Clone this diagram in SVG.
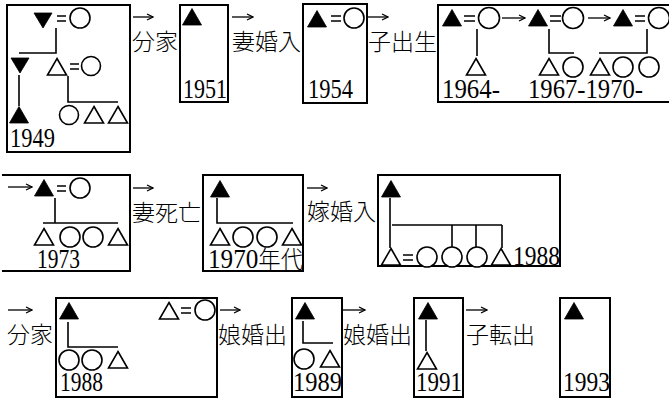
<svg xmlns="http://www.w3.org/2000/svg" xmlns:xlink="http://www.w3.org/1999/xlink" width="669" height="399" viewBox="0 0 669 399">
<style>
.box{fill:none;stroke:#000;stroke-width:2}
.ln{fill:none;stroke:#000;stroke-width:1.6}
.f{fill:#000;stroke:#000;stroke-width:0.8}
.o{fill:#fff;stroke:#000;stroke-width:1.6}
.yr{font-family:"Liberation Serif","Noto Sans CJK JP",serif;font-size:27px;fill:#000}
.cj{font-family:"Noto Sans CJK JP",sans-serif;font-size:24px;font-weight:300}
.lb{font-family:"Noto Sans CJK JP",sans-serif;font-size:23px;font-weight:300;fill:#000}
.arr{fill:none;stroke:#000;stroke-width:1.3;marker-end:url(#ah)}
</style>
<defs>
<path id="t" d="M0,-8.5 L9.5,8 L-9.5,8 Z"/>
<path id="td" d="M0,8 L9,-7 L-9,-7 Z"/>
<marker id="ah" viewBox="0 0 8 8" refX="7" refY="4" markerWidth="8" markerHeight="8" markerUnits="userSpaceOnUse" orient="auto">
<path d="M1,1 L7,4 L1,7" fill="none" stroke="#000" stroke-width="1.3"/>
</marker>
</defs>
<rect width="669" height="399" fill="#fff"/>

<g id="box-1949">
<rect class="box" x="7" y="5" width="123" height="147"/>
<use href="#td" class="f" x="43" y="20"/>
<path class="ln" d="M57,16 H66 M57,21 H66"/>
<circle class="o" cx="80" cy="18" r="10"/>
<path class="ln" d="M56,28 V53 H19"/>
<use href="#td" class="f" x="20" y="65"/>
<use href="#t" class="o" x="57" y="67"/>
<path class="ln" d="M70,64 H79 M70,69 H79"/>
<circle class="o" cx="91" cy="66" r="9.5"/>
<path class="ln" d="M19,75 V106"/>
<path class="ln" d="M68,76 V102 H118"/>
<use href="#t" class="f" x="19" y="115"/>
<circle class="o" cx="69" cy="115" r="9.5"/>
<use href="#t" class="o" x="94" y="115"/>
<use href="#t" class="o" x="118" y="115"/>
<text class="yr" x="10" y="147" textLength="45" lengthAdjust="spacingAndGlyphs">1949</text>
</g>

<g id="box-1951">
<rect class="box" x="180" y="5" width="48" height="97"/>
<use href="#t" class="f" x="192" y="17"/>
<text class="yr" x="183" y="98" textLength="44" lengthAdjust="spacingAndGlyphs">1951</text>
</g>

<g id="box-1954">
<rect class="box" x="303" y="4" width="64" height="99"/>
<use href="#t" class="f" x="317" y="19"/>
<path class="ln" d="M331,16 H341 M331,21 H341"/>
<circle class="o" cx="354" cy="18" r="10"/>
<text class="yr" x="308" y="98" textLength="45" lengthAdjust="spacingAndGlyphs">1954</text>
</g>

<g id="box-1964">
<rect class="box" x="438" y="5" width="236" height="97"/>
<use href="#t" class="f" x="452" y="18"/>
<path class="ln" d="M464,16 H475 M464,21 H475"/>
<circle class="o" cx="489" cy="18" r="10.5"/>
<use href="#t" class="f" x="538" y="18"/>
<path class="ln" d="M550,16 H561 M550,21 H561"/>
<circle class="o" cx="573" cy="18" r="10.5"/>
<use href="#t" class="f" x="623" y="18"/>
<path class="ln" d="M635,16 H645 M635,21 H645"/>
<circle class="o" cx="659" cy="18" r="10.5"/>
<path class="ln" d="M477,29 V56"/>
<path class="ln" d="M549,29 V53 H574"/>
<path class="ln" d="M647,29 V53 H599"/>
<use href="#t" class="o" x="476" y="67"/>
<use href="#t" class="o" x="549" y="67"/>
<circle class="o" cx="573" cy="67" r="10"/>
<use href="#t" class="o" x="600" y="67"/>
<circle class="o" cx="623" cy="67" r="10"/>
<circle class="o" cx="649" cy="67" r="10"/>
<text class="yr" x="442" y="98" textLength="58" lengthAdjust="spacingAndGlyphs">1964-</text>
<text class="yr" x="528" y="98" textLength="115" lengthAdjust="spacingAndGlyphs">1967-1970-</text>
</g>

<g id="box-1973">
<path class="box" d="M2,175 H130 V271 H2"/>
<use href="#t" class="f" x="44" y="188"/>
<path class="ln" d="M57,186 H66 M57,191 H66"/>
<circle class="o" cx="80" cy="188" r="10"/>
<path class="ln" d="M55,198 V223 M43,223 H118"/>
<use href="#t" class="o" x="44" y="237"/>
<circle class="o" cx="70" cy="237" r="10"/>
<circle class="o" cx="93" cy="237" r="10"/>
<use href="#t" class="o" x="118" y="237"/>
<text class="yr" x="37" y="268" textLength="43" lengthAdjust="spacingAndGlyphs">1973</text>
</g>

<g id="box-1970s">
<rect class="box" x="203" y="175" width="100" height="96"/>
<use href="#t" class="f" x="220" y="189"/>
<path class="ln" d="M217,198 V223 H293"/>
<use href="#t" class="o" x="220" y="237"/>
<circle class="o" cx="243" cy="237" r="10"/>
<circle class="o" cx="267" cy="237" r="10"/>
<use href="#t" class="o" x="292" y="237"/>
<text class="yr" x="208" y="268" textLength="95" lengthAdjust="spacingAndGlyphs">1970<tspan class="cj">年代</tspan></text>
</g>

<g id="box-1988a">
<rect class="box" x="378" y="175" width="182" height="91"/>
<use href="#t" class="f" x="391" y="189"/>
<path class="ln" d="M390,198 V248"/>
<path class="ln" d="M392,225 H502 M452,225 V247 M476,225 V247 M502,225 V248"/>
<use href="#t" class="o" x="391" y="257"/>
<path class="ln" d="M403,255 H413 M403,260 H413"/>
<circle class="o" cx="427" cy="257" r="10"/>
<circle class="o" cx="452" cy="257" r="10"/>
<circle class="o" cx="477" cy="257" r="10"/>
<use href="#t" class="o" x="501" y="257"/>
<text class="yr" x="513" y="265" textLength="47" lengthAdjust="spacingAndGlyphs">1988</text>
</g>

<g id="box-1988b">
<rect class="box" x="56" y="298" width="161" height="99"/>
<use href="#t" class="f" x="69" y="311"/>
<path class="ln" d="M68,322 V347 H118"/>
<circle class="o" cx="69" cy="360" r="10"/>
<circle class="o" cx="92" cy="360" r="10"/>
<use href="#t" class="o" x="118" y="360"/>
<text class="yr" x="60" y="391" textLength="43" lengthAdjust="spacingAndGlyphs">1988</text>
<use href="#t" class="o" x="169" y="311"/>
<path class="ln" d="M181,308 H191 M181,313 H191"/>
<circle class="o" cx="205" cy="310" r="10"/>
</g>

<g id="box-1989">
<rect class="box" x="292" y="298" width="50" height="99"/>
<use href="#t" class="f" x="305" y="311"/>
<path class="ln" d="M303,321 V343 H333"/>
<circle class="o" cx="304" cy="359" r="10"/>
<use href="#t" class="o" x="330" y="359"/>
<text class="yr" x="293" y="391" textLength="49" lengthAdjust="spacingAndGlyphs">1989</text>
</g>

<g id="box-1991">
<rect class="box" x="414" y="298" width="49" height="99"/>
<use href="#t" class="f" x="428" y="311"/>
<path class="ln" d="M426,320 V351"/>
<use href="#t" class="o" x="427" y="361"/>
<text class="yr" x="416" y="391" textLength="46" lengthAdjust="spacingAndGlyphs">1991</text>
</g>

<g id="box-1993">
<rect class="box" x="560" y="298" width="50" height="99"/>
<use href="#t" class="f" x="574" y="311"/>
<text class="yr" x="563" y="391" textLength="47" lengthAdjust="spacingAndGlyphs">1993</text>
</g>

<g id="connectors">
<path class="arr" d="M133,17 H153"/>
<path class="arr" d="M232,17 H253"/>
<path class="arr" d="M368,17 H388"/>
<path class="arr" d="M502,18 H525"/>
<path class="arr" d="M588,18 H610"/>
<path class="arr" d="M8,187 H32"/>
<path class="arr" d="M133,188 H153"/>
<path class="arr" d="M307,188 H327"/>
<path class="arr" d="M8,310 H32"/>
<path class="arr" d="M220,310 H240"/>
<path class="arr" d="M343,310 H365"/>
<path class="arr" d="M466,310 H487"/>
<text class="lb" x="132" y="50">分家</text>
<text class="lb" x="232" y="50">妻婚入</text>
<text class="lb" x="368" y="50">子出生</text>
<text class="lb" x="132" y="221">妻死亡</text>
<text class="lb" x="307" y="220">嫁婚入</text>
<text class="lb" x="7" y="343">分家</text>
<text class="lb" x="218" y="343">娘婚出</text>
<text class="lb" x="343" y="343">娘婚出</text>
<text class="lb" x="466" y="343">子転出</text>
</g>
</svg>
